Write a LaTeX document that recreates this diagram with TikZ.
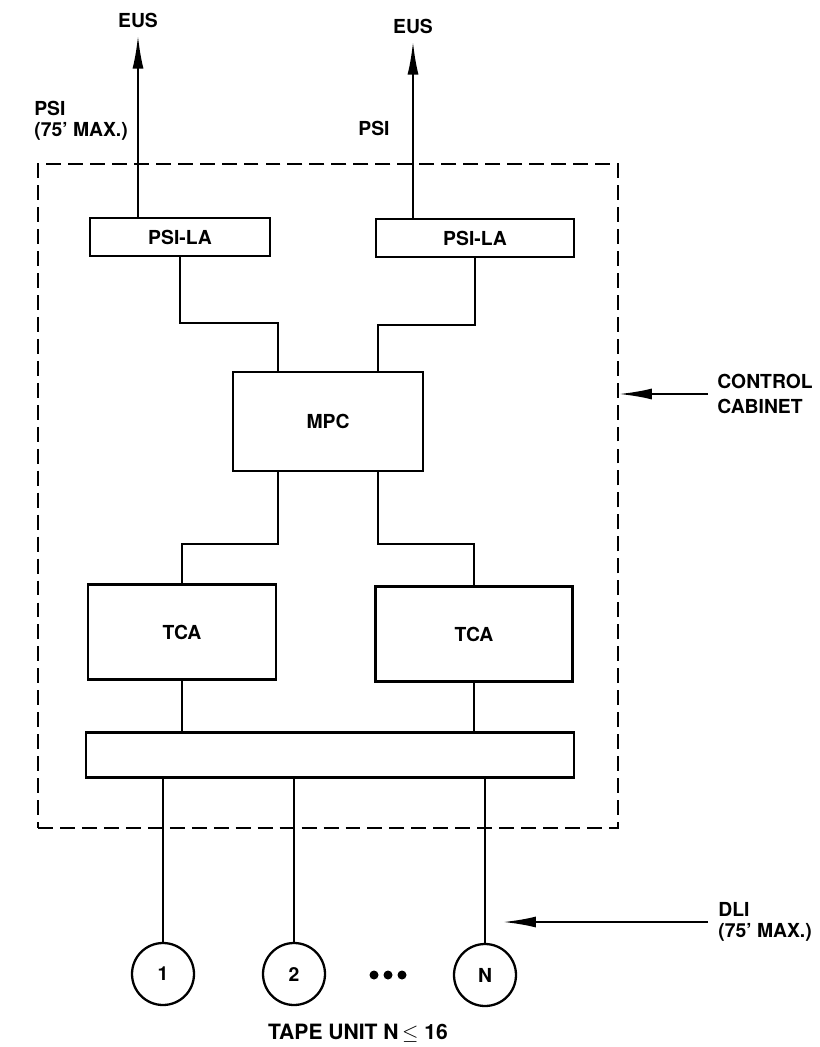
\documentclass[tikz,border=0pt]{standalone}
\usepackage{fontspec}
\setmainfont{TeX Gyre Heros}
\usetikzlibrary{arrows.meta, positioning}

\begin{document}
\begin{tikzpicture}[x=0.02cm, y=-0.02cm,
    unit/.style={draw, line width=1.3pt, font=\bfseries\fontsize{11}{12}\selectfont, inner sep=0pt},
    lbl/.style={font=\bfseries\fontsize{11}{12}\selectfont, align=left, inner sep=0pt},
    tape/.style={draw, circle, line width=1.3pt, minimum size=1.24cm, inner sep=0pt, font=\bfseries\fontsize{11}{12}\selectfont},
    wire/.style={line width=1.3pt},
    feed/.style={line width=1.3pt, -{Latex[length=0.66cm, width=0.22cm]}}]
  \useasboundingbox (0,0) rectangle (819,1047);

  % control cabinet
  \node[draw, dash pattern=on 8.5pt off 4pt, line width=1.1pt, minimum width=11.6cm, minimum height=13.28cm] (cabinet) at (328,496) {};

  \node[unit, minimum width=3.6cm, minimum height=0.76cm] (psiL) at (180,237) {PSI-LA};
  \node[unit, minimum width=3.96cm, minimum height=0.76cm] (psiR) at (475,238) {PSI-LA};
  \node[unit, minimum width=3.8cm, minimum height=1.98cm] (mpc) at (328,421.5) {MPC};
  \node[unit, minimum width=3.76cm, minimum height=1.9cm] (tcaL) at (182,632) {TCA};
  \node[unit, minimum width=3.94cm, minimum height=1.9cm] (tcaR) at (474,634) {TCA};
  \node[unit, minimum width=9.76cm, minimum height=0.9cm] (bus) at (330,755) {};

  \draw[wire] (psiL.south) -- ++(0,66) -| ([xshift=-1cm]mpc.north);
  \draw[wire] (psiR.south) -- ++(0,67) -| ([xshift=1cm]mpc.north);
  \draw[wire] ([xshift=-1cm]mpc.south) -- ++(0,72) -| (tcaL.north);
  \draw[wire] ([xshift=1cm]mpc.south) -- ++(0,72) -| (tcaR.north);
  \draw[wire] (tcaL.south) -- (tcaL.south |- bus.north);
  \draw[wire] (tcaR.south) -- (tcaR.south |- bus.north);

  % tape units
  \node[tape] (t1) at (163,974) {1};
  \node[tape] (t2) at (294,974) {2};
  \node[tape] (tN) at (485,975) {N};
  \foreach \t in {t1,t2,tN}
    \draw[line width=1pt] (bus.south -| \t) -- (\t.north);
  \foreach \x in {374,388,402}
    \fill (\x,975) circle (0.09cm);

  % labels
  \node[lbl] (eusL) at (138,20) {EUS};
  \node[lbl] (eusR) at (413,26) {EUS};
  \draw[feed, shorten >=0.16cm] (psiL.north -| eusL) -- (eusL.south);
  \draw[feed, shorten >=0.16cm] (psiR.north -| eusR) -- (eusR.south);
  \node[lbl, anchor=west] (psiNoteL) at (34,121) {PSI\\(75’ MAX.)};
  \node[lbl] (psiNoteR) at (374,128) {PSI};

  \node[lbl, anchor=west] (ctrl) at (717,394) {CONTROL\\[2.7pt]CABINET};
  \draw[feed, shorten <=0.18cm] (ctrl.west) -- (ctrl.west -| cabinet.east);

  \node[lbl, anchor=west] (dli) at (718,922) {DLI\\(75’ MAX.)};
  \draw[feed, shorten <=0.2cm] (dli.west) -- ([xshift=0.36cm]dli.west -| tN);

  \node[lbl, font=\bfseries\fontsize{12}{14}\selectfont] (tapeNote) at (358,1033) {TAPE UNIT N\,$\leq$ 16};
\end{tikzpicture}
\end{document}
